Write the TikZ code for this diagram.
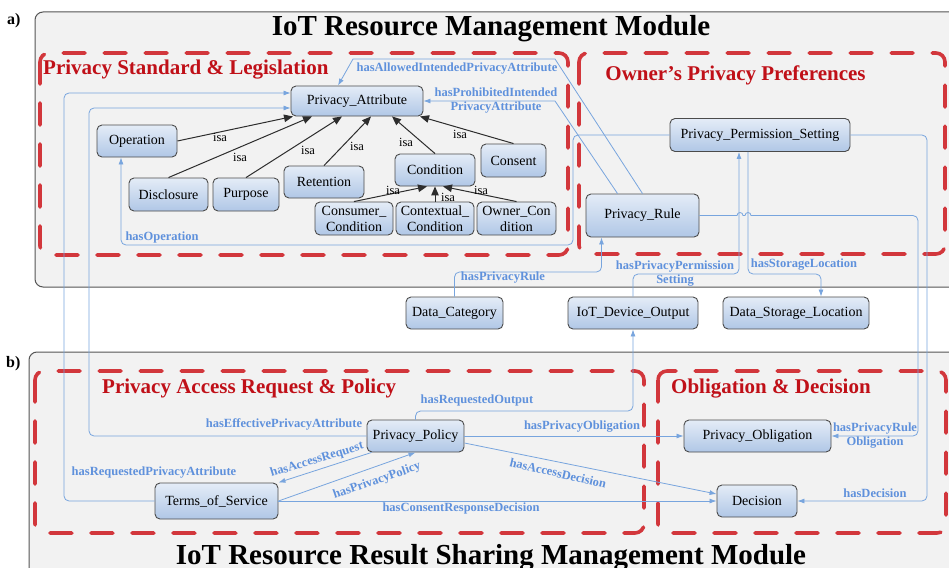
\documentclass[tikz,border=0pt]{standalone}
\usepackage{fontspec}
\setmainfont{Liberation Serif}
\usetikzlibrary{arrows.meta,calc}
\definecolor{relblue}{RGB}{120,165,222}
\definecolor{labblue}{RGB}{95,145,220}
\definecolor{grpred}{RGB}{210,55,60}
\definecolor{titlered}{RGB}{192,16,24}
\definecolor{modfill}{RGB}{242,242,242}
\definecolor{modborder}{RGB}{85,85,85}
\definecolor{nodetop}{RGB}{228,236,247}
\definecolor{nodebot}{RGB}{176,199,230}
\definecolor{nodeborder}{RGB}{75,75,75}
\definecolor{isagray}{RGB}{45,45,45}
\tikzset{
 cls/.style={draw=nodeborder, line width=0.9pt, rounded corners=5pt, top color=nodetop, bottom color=nodebot, font=\fontsize{14pt}{16pt}\selectfont, inner sep=0pt, align=center},
 mod/.style={draw=modborder, line width=1pt, fill=modfill, rounded corners=8pt},
 grp/.style={draw=grpred, line width=3.6pt, dash pattern=on 22pt off 19pt, line cap=round, rounded corners=9pt},
 grptitle/.style={text=titlered, font=\fontsize{21pt}{24pt}\selectfont\bfseries, inner sep=0pt},
 modtitle/.style={font=\fontsize{29pt}{32pt}\selectfont\bfseries, inner sep=0pt},
 parttag/.style={font=\fontsize{16pt}{18pt}\selectfont\bfseries, anchor=base west, inner sep=0pt},
 isa/.style={draw=isagray, line width=1pt, -{Triangle[length=9pt,width=7.5pt]}},
 isalab/.style={font=\fontsize{12.5pt}{13pt}\selectfont, inner sep=0pt},
 rel/.style={draw=relblue, line width=0.8pt, -{Latex[length=7pt,width=5pt]}},
 rellab/.style={text=labblue, font=\fontsize{12.5pt}{14pt}\selectfont\bfseries, inner sep=0pt, align=center},
}
\begin{document}
\begin{tikzpicture}[x=1pt,y=-1pt]
\useasboundingbox (0,0) rectangle (949,567);
\fill[white] (0,0) rectangle (949,567);
% modules
\draw[mod] (35,12) rectangle (975,287);
\draw[mod] (29,352) rectangle (975,600);
\node[parttag] (la) at (7,25) {a)};
\node[parttag] (lb) at (6,367) {b)};
\node[modtitle, anchor=base] (t1) at (491,36) {IoT Resource Management Module};
\node[modtitle, anchor=base] (t2) at (491,564) {IoT Resource Result Sharing Management Module};
% groups
\draw[grp] (40,53) rectangle (568,255);
\draw[grp] (579,53) rectangle (945,254);
\draw[grp] (35,371) rectangle (644,533);
\draw[grp] (658,371) rectangle (946,533);
\node[grptitle, anchor=base west] (g1) at (43,75) {Privacy Standard \& Legislation};
\node[grptitle, anchor=base] (g2) at (735.5,81) {Owner’s Privacy Preferences};
\node[grptitle, anchor=base west] (g3) at (102,393) {Privacy Access Request \& Policy};
\node[grptitle, anchor=base west] (g4) at (671,393) {Obligation \& Decision};
% classes
\node[cls, minimum width=132pt, minimum height=30pt] (PA) at (357,101) {Privacy\_Attribute};
\node[cls, minimum width=80pt, minimum height=32pt] (Op) at (137,141) {Operation};
\node[cls, minimum width=79pt, minimum height=33pt] (Disc) at (168.5,194.5) {Disclosure};
\node[cls, minimum width=66pt, minimum height=33pt] (Purp) at (246,194.5) {Purpose};
\node[cls, minimum width=80pt, minimum height=32pt] (Ret) at (324,182) {Retention};
\node[cls, minimum width=80pt, minimum height=32pt] (Cond) at (435,170) {Condition};
\node[cls, minimum width=65pt, minimum height=33pt] (Cons) at (513.5,160.5) {Consent};
\node[cls, minimum width=78pt, minimum height=33pt] (CCon) at (354,218.5) {Consumer\_\\Condition};
\node[cls, minimum width=78pt, minimum height=33pt] (XCon) at (435,218.5) {Contextual\_\\Condition};
\node[cls, minimum width=79pt, minimum height=33pt] (OCon) at (516.5,218.5) {Owner\_Con\\dition};
\node[cls, minimum width=180pt, minimum height=33pt] (PPS) at (760,135) {Privacy\_Permission\_Setting};
\node[cls, minimum width=113pt, minimum height=43pt] (PR) at (642.5,215.5) {Privacy\_Rule};
\node[cls, minimum width=97pt, minimum height=32pt] (DC) at (454.5,313) {Data\_Category};
\node[cls, minimum width=130pt, minimum height=32pt] (IDO) at (633,313) {IoT\_Device\_Output};
\node[cls, minimum width=146pt, minimum height=32pt] (DSL) at (796,313) {Data\_Storage\_Location};
\node[cls, minimum width=97pt, minimum height=32pt] (PP) at (415.5,436) {Privacy\_Policy};
\node[cls, minimum width=123pt, minimum height=36pt] (ToS) at (216.5,501) {Terms\_of\_Service};
\node[cls, minimum width=147pt, minimum height=32pt] (PO) at (757.5,436) {Privacy\_Obligation};
\node[cls, minimum width=80pt, minimum height=32pt] (Dec) at (757,501) {Decision};
% isa
\draw[isa] (Op.east) -- ([xshift=-64pt]PA.south);
\draw[isa] (Disc.north) -- ([xshift=-45pt]PA.south);
\draw[isa] (Purp.north) -- ([xshift=-15pt]PA.south);
\draw[isa] (Ret.north) -- ([xshift=14pt]PA.south);
\draw[isa] (Cond.north) -- ([xshift=35pt]PA.south);
\draw[isa] (Cons.north) -- ([xshift=63pt]PA.south);
\draw[isa] (CCon.north) -- ([xshift=-8pt]Cond.south);
\draw[isa] (XCon.north) -- (Cond.south);
\draw[isa] (OCon.north) -- ([xshift=8pt]Cond.south);
\node[isalab] (i1) at (220,137) {isa};
\node[isalab] (i2) at (240,157) {isa};
\node[isalab] (i3) at (308,150) {isa};
\node[isalab] (i4) at (357,146) {isa};
\node[isalab] (i5) at (406,142) {isa};
\node[isalab] (i6) at (460,134) {isa};
\node[isalab] (i7) at (393,190) {isa};
\node[isalab] (i8) at (448,197) {isa};
\node[isalab] (i9) at (481,190) {isa};
% relations
\draw[rel, rounded corners=5pt] (ToS.west) -| (64,93) -- ([yshift=8pt]PA.west);
\draw[rel, rounded corners=5pt] (PP.west) -| (89,108) -- ([yshift=-7pt]PA.west);
\draw[rel, rounded corners=5pt] (PPS.west) -| (573,245) -| ([xshift=-16pt]Op.south);
\draw[rel] (PR.north) -- (555,59) -- (353,59) -- ([xshift=-19pt]PA.north);
\draw[rel] ([xshift=-25pt]PR.north) -- (555,101) -- (PA.east);
\draw[rel, rounded corners=5pt] (DC.north) |- (601.5,272) -- ([xshift=-41pt]PR.south);
\draw[rel, rounded corners=5pt] (IDO.north) |- (739,274) -- ([xshift=-21pt]PPS.south);
\draw[rel, rounded corners=5pt] ([xshift=-12pt]PPS.south) |- (821,274) -- ([xshift=25pt]DSL.north);
\draw[rel] (PR.east) -- (737,215.5) arc[start angle=180,end angle=0,radius=3pt] -- (745,215.5) arc[start angle=180,end angle=0,radius=3pt] [rounded corners=5pt] -- (918,215.5) -- (918,436) -- (PO.east);
\draw[rel, rounded corners=5pt] (PPS.east) -- (927,135) -- (927,501) -- (Dec.east);
\draw[rel, rounded corners=5pt] (PP.north) |- (633,411) -- (IDO.south);
\draw[rel] (PP.east) -- (PO.west);
\draw[rel] ([yshift=-7pt]PP.east) -- ([yshift=7pt]Dec.west);
\draw[rel] (ToS.east) -- (Dec.west);
\draw[rel] ([xshift=5pt]PP.south west) -- (ToS.north east);
\draw[rel] (ToS.east) -- (PP.south);
% relation labels
\node[rellab] (r1) at (457,69) {hasAllowedIntendedPrivacyAttribute};
\node[rellab] (r2) at (496,101) {hasProhibitedIntended\\PrivacyAttribute};
\node[rellab] (r3) at (162,237) {hasOperation};
\node[rellab] (r4) at (503,278) {hasPrivacyRule};
\node[rellab] (r5) at (675,274) {hasPrivacyPermission\\Setting};
\node[rellab] (r6) at (804,265) {hasStorageLocation};
\node[rellab] (r7) at (875,436) {hasPrivacyRule\\Obligation};
\node[rellab] (r8) at (875,493) {hasDecision};
\node[rellab] (r9) at (477,400) {hasRequestedOutput};
\node[rellab] (r10) at (284,424) {hasEffectivePrivacyAttribute};
\node[rellab] (r11) at (154,473) {hasRequestedPrivacyAttribute};
\node[rellab] (r12) at (582,427) {hasPrivacyObligation};
\node[rellab, rotate=-13] (r13) at (558,473) {hasAccessDecision};
\node[rellab] (r14) at (461,508) {hasConsentResponseDecision};
\node[rellab, rotate=17] (r15) at (317,460) {hasAccessRequest};
\node[rellab, rotate=19] (r16) at (377,481) {hasPrivacyPolicy};
\end{tikzpicture}
\end{document}
